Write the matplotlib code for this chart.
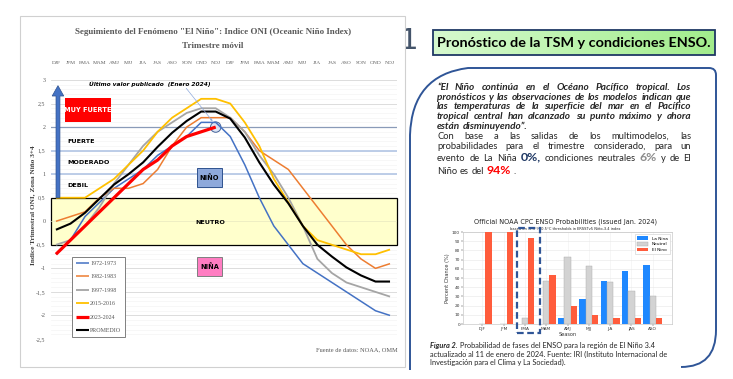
import matplotlib
matplotlib.use('Agg')
import matplotlib.pyplot as plt
import numpy as np
from matplotlib.patches import Rectangle, Ellipse, PathPatch
from matplotlib.path import Path
from matplotlib.colors import LinearSegmentedColormap

# ---------------- data ----------------
seasons = ['DJF', 'JFM', 'FMA', 'MAM', 'AMJ', 'MJJ', 'JJA', 'JAS', 'ASO', 'SON', 'OND', 'NDJ'] * 2
oni_1972 = [-0.7, -0.4, 0.1, 0.4, 0.7, 0.9, 1.1, 1.4, 1.6, 1.8, 2.1, 2.1,
            1.8, 1.2, 0.5, -0.1, -0.5, -0.9, -1.1, -1.3, -1.5, -1.7, -1.9, -2.0]
oni_1982 = [0.0, 0.1, 0.2, 0.5, 0.7, 0.7, 0.8, 1.1, 1.6, 2.0, 2.2, 2.2,
            2.2, 1.9, 1.5, 1.3, 1.1, 0.7, 0.3, -0.1, -0.5, -0.8, -1.0, -0.9]
oni_1997 = [-0.5, -0.4, -0.1, 0.3, 0.8, 1.2, 1.6, 1.9, 2.1, 2.3, 2.4, 2.4,
            2.2, 1.9, 1.4, 1.0, 0.5, -0.1, -0.8, -1.1, -1.3, -1.4, -1.5, -1.6]
oni_2015 = [0.5, 0.5, 0.5, 0.7, 0.9, 1.2, 1.5, 1.9, 2.2, 2.4, 2.6, 2.6,
            2.5, 2.1, 1.6, 0.9, 0.4, -0.1, -0.4, -0.5, -0.6, -0.7, -0.7, -0.6]
oni_2023 = [-0.7, -0.4, -0.1, 0.2, 0.5, 0.8, 1.1, 1.3, 1.6, 1.8, 1.9, 2.0]
oni_prom = [-0.18, -0.05, 0.18, 0.48, 0.78, 1.0, 1.25, 1.58, 1.88, 2.13, 2.33, 2.33,
            2.18, 1.78, 1.25, 0.78, 0.38, -0.1, -0.5, -0.75, -0.98, -1.15, -1.28, -1.28]
series_labels = ['1972-1973', '1982-1983', '1997-1998', '2015-2016', '2023-2024', 'PROMEDIO']

bar_seasons = ['DJF', 'JFM', 'FMA', 'MAM', 'AMJ', 'MJJ', 'JJA', 'JAS', 'ASO']
p_nina = [0, 0, 0, 0, 7, 27, 47, 58, 64]
p_neutral = [0, 0, 6, 47, 73, 63, 46, 36, 30]
p_nino = [100, 100, 94, 53, 20, 10, 7, 6, 6]

# ---------------- figure ----------------
W, H = 733, 379
fig = plt.figure(figsize=(W / 100, H / 100), dpi=100)
bg = fig.add_axes([0, 0, 1, 1])
bg.axis('off')
bg.set_xlim(0, W)
bg.set_ylim(H, 0)


def frac(x0, y0, x1, y1):
    return [x0 / W, 1 - y1 / H, (x1 - x0) / W, (y1 - y0) / H]


renderer = fig.canvas.get_renderer()
SERIF = 'Liberation Serif'
SANS = 'Lato'
NARROW = 'Liberation Sans Narrow'


def natural_width(s, props):
    t = bg.text(0, 0, s, **props)
    w = t.get_window_extent(renderer).width
    t.remove()
    return w


# partial glyph of the slide behind
bg.text(409, 41, '1', fontsize=21, color='#44546A', ha='center', va='center',
        family='DejaVu Sans', zorder=1)
# left panel
bg.add_patch(Rectangle((20, 16), 385, 351, fc='white', ec='#D0D0D0', lw=0.8, zorder=2))
bg.text(213, 32, 'Seguimiento del Fenómeno "El Niño": Indice ONI (Oceanic Niño Index)',
        family=SERIF, fontweight='bold', fontsize=6.5, color='#595959', ha='center',
        va='center', zorder=3)
bg.text(213, 46, 'Trimestre móvil', family=SERIF, fontweight='bold', fontsize=6.5,
        color='#595959', ha='center', va='center', zorder=3)
bg.text(33, 205, 'Indice Trimestral ONI, Zona Niño 3+4', family=SERIF, fontweight='bold',
        fontsize=5.2, color='#404040', rotation=90, ha='center', va='center', zorder=3)
bg.text(398, 350, 'Fuente de datos: NOAA, OMM', family=SERIF, fontsize=4.6,
        color='#595959', ha='right', va='center', zorder=3)

# ---------------- ONI line chart ----------------
ax = fig.add_axes(frac(51, 80, 397, 339))
ax.set_facecolor('none')
x = np.arange(len(seasons))
ax.set_xlim(-0.34, 23.48)
ax.set_ylim(-2.5, 3)
for s in ax.spines.values():
    s.set_visible(False)

for v in np.arange(-2.5, 3.001, 0.1):
    ax.axhline(v, color='#F1F1F1', lw=0.4, zorder=0)
for v in np.arange(-2.5, 3.001, 0.5):
    v = round(v, 1)
    if v == 2.0:
        c, lw = '#8A9BB8', 0.9
    elif v in (1.5, 1.0):
        c, lw = '#B7C9E6', 1.3
    else:
        c, lw = '#D9D9D9', 0.6
    ax.axhline(v, color=c, lw=lw, zorder=0.5)

ax.axhspan(-0.5, 0.5, fc='#FFFFCC', ec='black', lw=0.9, zorder=1, clip_on=False)
ax.axhline(0, color='#E8E8C0', lw=0.5, zorder=1.1)

ax.set_xticks(x)
ax.set_xticklabels(seasons, family=SERIF, fontsize=3.9, color='#595959')
ax.tick_params(axis='x', top=True, bottom=False, labeltop=True, labelbottom=False,
               length=0, pad=11)
yt = np.arange(-2.5, 3.001, 0.5)
ax.set_yticks(yt)
ax.set_yticklabels([('%g' % round(v, 1)).replace('.', ',') for v in yt],
                   family=SERIF, fontsize=4.3, color='#595959')
ax.tick_params(axis='y', length=0, pad=4)

colors = ['#4472C4', '#ED7D31', '#A5A5A5', '#FFC000', '#FF0000', '#000000']
widths = [1.1, 1.1, 1.3, 1.3, 2.3, 1.5]
data = [oni_1972, oni_1982, oni_1997, oni_2015, oni_2023, oni_prom]
order = [1, 0, 2, 3, 5, 4]
handles = {}
for k in order:
    ln, = ax.plot(x[:len(data[k])], data[k], color=colors[k], lw=widths[k],
                  label=series_labels[k], zorder=3 + k * 0.1, solid_capstyle='butt')
    handles[k] = ln

leg = ax.legend([handles[k] for k in range(6)], series_labels, loc='upper left',
                bbox_to_anchor=(0.061, 0.318), borderaxespad=0, fancybox=False,
                prop={'family': SERIF, 'size': 4.3}, labelcolor='#595959',
                handlelength=2.2, handletextpad=0.1, labelspacing=1.38, borderpad=0.7,
                edgecolor='#808080', framealpha=1)
leg.get_frame().set_linewidth(0.7)
leg.set_zorder(6)

# arrow and intensity labels
ax.arrow(0.14, 0.5, 0, 2.38, width=0.27, head_width=0.8, head_length=0.22,
         length_includes_head=True, fc='#4472C4', ec='#2F528F', lw=0.5, zorder=4)
ax.add_patch(Rectangle((0.62, 2.1), 3.15, 0.52, fc='#FF0000', ec='none', zorder=4))
ax.text(2.2, 2.36, 'MUY FUERTE', color='white', fontweight='bold', fontsize=4.8,
        family=NARROW, ha='center', va='center', zorder=5)
for yy, lab in [(1.7, 'FUERTE'), (1.24, 'MODERADO'), (0.76, 'DEBIL')]:
    ax.text(0.76, yy, lab, fontweight='bold', fontsize=4.6, family=NARROW,
            ha='left', va='center', zorder=5)
ax.text(10.6, -0.02, 'NEUTRO', fontweight='bold', fontsize=4.6, family=NARROW,
        ha='center', va='center', zorder=5)
ax.add_patch(Rectangle((9.72, 0.72), 1.72, 0.42, fc='#8EA9DB', ec='#2F528F', lw=0.7, zorder=4))
ax.text(10.58, 0.93, 'NIÑO', fontweight='bold', fontsize=4.8, family=NARROW,
        ha='center', va='center', zorder=5)
ax.add_patch(Rectangle((9.72, -1.17), 1.72, 0.42, fc='#FF7DC2', ec='#7F7F7F', lw=0.7, zorder=4))
ax.text(10.58, -0.96, 'NIÑA', fontweight='bold', fontsize=4.8, family=NARROW,
        ha='center', va='center', zorder=5)
ax.add_patch(Ellipse((11, 2.0), 0.72, 0.22, fc='#DAE3F3', ec='#2F528F', lw=0.7,
                     alpha=0.9, zorder=2.9))
ax.text(2.25, 2.92, 'Último valor publicado  (Enero 2024)', fontweight='bold', fontstyle='italic',
        fontsize=4.2, family=NARROW, ha='left', va='center', zorder=5)
ax.annotate('', xy=(10.9, 2.08), xytext=(8.85, 2.87),
            arrowprops=dict(arrowstyle='-|>', color='#8FAADC', lw=0.5, mutation_scale=3),
            zorder=5)

# ---------------- right side ----------------
path = Path([(410, 370), (410, 135), (412, 75), (468, 68), (709, 68), (716, 68), (716, 75),
             (716, 330), (716, 367), (681, 367)],
            [Path.MOVETO, Path.LINETO, Path.CURVE3, Path.CURVE3, Path.LINETO, Path.CURVE3,
             Path.CURVE3, Path.LINETO, Path.CURVE3, Path.CURVE3])
bg.add_patch(PathPatch(path, fc='none', ec='#2F5597', lw=1.4, zorder=2))

gcm = LinearSegmentedColormap.from_list('g', ['#D6F9CE', '#BDF4AE', '#A2EC8C'])
bg.imshow(np.linspace(0, 1, 256).reshape(1, -1), extent=(433, 715, 55, 30), aspect='auto',
          cmap=gcm, zorder=2)
bg.set_xlim(0, W)
bg.set_ylim(H, 0)
bg.add_patch(Rectangle((433, 30), 282, 25, fc='none', ec='#1F3864', lw=1.3, zorder=3))
t = bg.text(574, 43, 'Pronóstico de la TSM y condiciones ENSO.', family=SANS,
            fontweight='bold', fontsize=9, ha='center', va='center', zorder=4)
t.set_fontsize(9 * 273 / t.get_window_extent(renderer).width)

TXT = '#262626'
quote = ['“El Niño continúa en el Océano Pacífico tropical. Los',
         'pronósticos y las observaciones de los modelos indican que',
         'las temperaturas de la superficie del mar en el Pacífico',
         'tropical central han alcanzado su punto máximo y ahora']
body1 = 'Con base a las salidas de los multimodelos, las'
body2 = 'probabilidades para el trimestre considerado, para un'


def words(s, props):
    return [(w, props) for w in s.split()]


BI = dict(family=SANS, fontsize=7, fontweight='bold', fontstyle='italic', color=TXT)
BI['fontsize'] = 7 * 248 / natural_width(quote[1], BI)
NR = dict(family=SANS, fontsize=BI['fontsize'] * 0.94, color=TXT)


def place_line(items, x0, y, x1=None, space=None):
    objs = []
    for word, props in items:
        objs.append(bg.text(x0, y, word, ha='left', va='baseline', zorder=4, **props))
    ws = [o.get_window_extent(renderer).width for o in objs]
    if x1 is not None and len(objs) > 1:
        gap = (x1 - x0 - sum(ws)) / (len(objs) - 1)
    else:
        gap = space
    xx = x0
    for o, w in zip(objs, ws):
        o.set_x(xx)
        xx += w + gap


L0, L1 = 437, 691
ys = [89.8, 99.6, 109.4, 119.2]
for s, yy in zip(quote, ys):
    place_line(words(s, BI), L0, yy, L1)
place_line(words('están disminuyendo”.', BI), L0, 128.8, None, 2.6)
place_line(words(body1, NR), L0, 138.8, L1)
place_line(words(body2, NR), L0, 148.6, L1)
big = NR['fontsize'] * 1.32
NAVY = dict(family=SANS, fontsize=big, fontweight='bold', color='#1F3864')
GRAY = dict(family=SANS, fontsize=big, fontweight='bold', color='#8C8C8C')
RED = dict(family=SANS, fontsize=big, fontweight='bold', color='#FF0000')
line8 = (words('evento de La Niña', NR) + [('0%,', NAVY)] + words('condiciones neutrales', NR)
         + [('6%', GRAY)] + words('y de El', NR))
place_line(line8, L0, 160.8, L1)
place_line(words('Niño es del', NR) + [('94%', RED), ('.', NR)], L0, 173.8, None, 2.6)

# caption
cap1 = 'Probabilidad de fases del ENSO para la región de El Niño 3.4'
cap2 = 'actualizado al 11 de enero de 2024. Fuente: IRI (Instituto Internacional de'
cap3 = 'Investigación para el Clima y La Sociedad).'
CN = dict(family=SANS, fontsize=5.5, color=TXT)
CN['fontsize'] = 5.5 * 237 / natural_width(cap2, CN)
CB = dict(CN, fontweight='bold', fontstyle='italic')
t1 = bg.text(430, 348, 'Figura 2.', ha='left', va='baseline', zorder=4, **CB)
w1 = t1.get_window_extent(renderer).width
bg.text(430 + w1 + 2, 348, cap1, ha='left', va='baseline', zorder=4, **CN)
bg.text(430, 356.5, cap2, ha='left', va='baseline', zorder=4, **CN)
bg.text(430, 365, cap3, ha='left', va='baseline', zorder=4, **CN)

# ---------------- probability bar chart ----------------
bx = fig.add_axes(frac(463, 232, 672, 324))
xb = np.arange(len(bar_seasons))
bx.bar(xb - 0.3, p_nina, 0.3, color='#1F88FF', label='La Nina', zorder=3)
bx.bar(xb, p_neutral, 0.3, color='#D3D3D3', ec='#A8A8A8', lw=0.3, label='Neutral', zorder=3)
bx.bar(xb + 0.3, p_nino, 0.3, color='#FF5C3C', label='El Nino', zorder=3)
bx.set_xlim(-0.9, 8.9)
bx.set_ylim(0, 100)
bx.set_yticks(range(0, 101, 10))
bx.set_xticks(xb)
bx.set_xticklabels(bar_seasons)
bx.tick_params(labelsize=3.1, length=1.2, width=0.3, pad=1, colors='#333333')
bx.grid(axis='y', color='#E6E6E6', lw=0.4, zorder=0)
bx.grid(axis='x', color='#F0F0F0', lw=0.4, zorder=0)
for s in bx.spines.values():
    s.set_color('#BBBBBB')
    s.set_linewidth(0.4)
bx.set_xlabel('Season', fontsize=3.6, labelpad=0.5, color='#333333')
bx.set_ylabel('Percent Chance (%)', fontsize=3.6, labelpad=1.5, color='#333333')
bl = bx.legend(loc='upper right', fontsize=3.1, handlelength=2.6, handleheight=0.9,
               borderpad=0.5, labelspacing=0.35, fancybox=False, edgecolor='#CCCCCC',
               framealpha=1)
bl.get_frame().set_linewidth(0.4)
bx.add_patch(Rectangle((1.63, -9.8), 1.08, 114, fill=False, ls=(0, (3, 1.6)),
                       ec='#2F5597', lw=1.6, clip_on=False, zorder=6))
bg.text(565, 222, 'Official NOAA CPC ENSO Probabilities (issued Jan. 2024)',
        fontsize=4.7, ha='center', va='center', color='#222222', zorder=4)
bg.text(565, 229, 'based on -0.5°/+0.5°C thresholds in ERSSTv5 Niño-3.4 index',
        fontsize=2.6, ha='center', va='center', color='#222222', zorder=4)

bg.set_xlim(0, W)
bg.set_ylim(H, 0)
fig.savefig('out.png', dpi=100)
